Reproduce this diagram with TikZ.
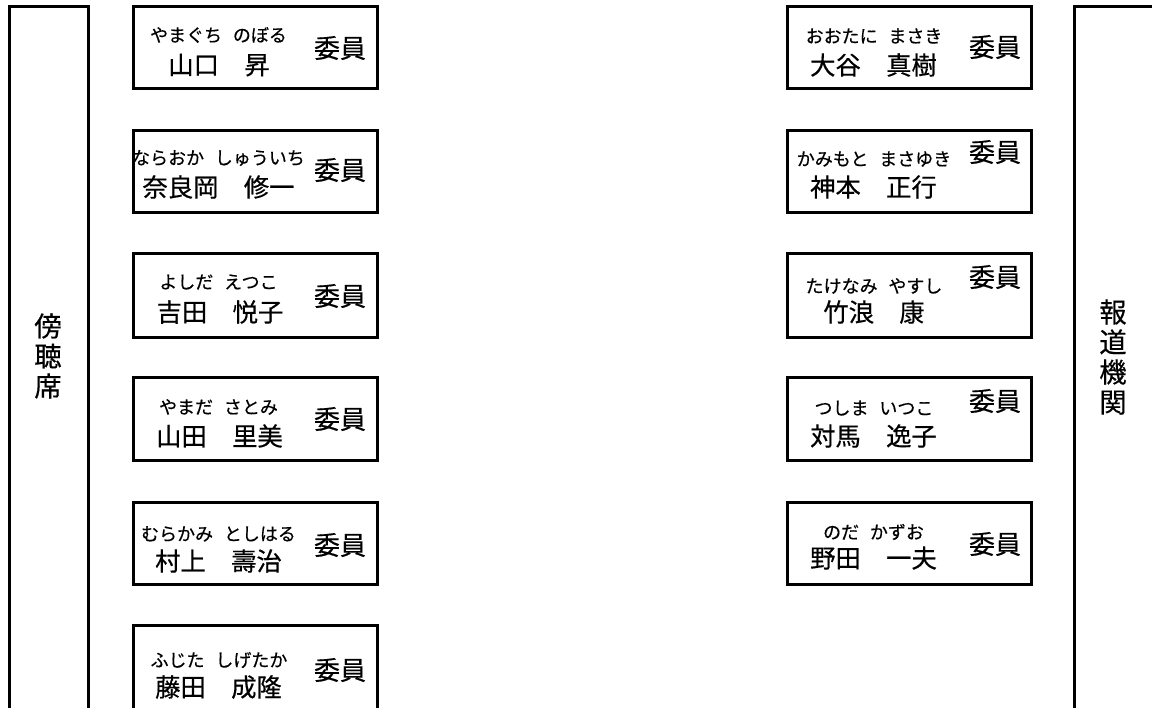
\documentclass[tikz,border=0pt]{standalone}
\usepackage{fontspec}
\setmainfont{Noto Sans CJK JP}[FakeBold=0.5]
\usepackage{tikz}

\newcommand{\kgap}{\hspace{0.6em}}
\tikzset{
  kana/.style={inner sep=0pt,font=\fontsize{13.5}{16}\selectfont},
  fullname/.style={inner sep=0pt,font=\fontsize{19}{22}\selectfont},
  role/.style={inner sep=0pt,font=\fontsize{19.5}{22}\selectfont},
  side/.style={inner sep=0pt,align=center,font=\fontsize{20.5}{22.5}\selectfont}
}

\begin{document}
\begin{tikzpicture}[x=0.75pt,y=-0.75pt,line width=2.25pt]
\useasboundingbox (0,0) rectangle (1152,707);
% seats of the audience and the press
\draw[] (9,720) -- (9,6) -- (88.5,6) -- (88.5,720);
\draw[] (1074,720) -- (1074,6) -- (1160,6);
\node[side] (audience) at (48,356) {傍\\聴\\席};
\node[side] (press) at (1113,357) {報\\道\\機\\関};
% left row
\draw[] (133,6) rectangle (377,88);
\draw[] (133,130) rectangle (377,212);
\draw[] (133,253) rectangle (377,337);
\draw[] (133,377) rectangle (377,460);
\draw[] (133,502) rectangle (377,584);
\draw[] (133,625) rectangle (377,740);
\node[kana] (l1kana) at (218.5,35) {やまぐち\kgap のぼる};
\node[fullname] (l1name) at (219,65) {山口　昇};
\node[role] (l1role) at (340,48) {委員};
\node[kana] (l2kana) at (218.5,158) {ならおか\kgap しゅういち};
\node[fullname] (l2name) at (218.5,187) {奈良岡　修一};
\node[role] (l2role) at (340,170) {委員};
\node[kana] (l3kana) at (218.5,282) {よしだ\kgap えつこ};
\node[fullname] (l3name) at (220,312) {吉田　悦子};
\node[role] (l3role) at (340,296) {委員};
\node[kana] (l4kana) at (218.5,407) {やまだ\kgap さとみ};
\node[fullname] (l4name) at (219.5,436) {山田　里美};
\node[role] (l4role) at (340,419) {委員};
\node[kana] (l5kana) at (218.5,534) {むらかみ\kgap としはる};
\node[fullname] (l5name) at (218.5,561) {村上　壽治};
\node[role] (l5role) at (340,545) {委員};
\node[kana] (l6kana) at (219,660) {ふじた\kgap しげたか};
\node[fullname] (l6name) at (218.5,687) {藤田　成隆};
\node[role] (l6role) at (340,670) {委員};
% right row
\draw[] (787,6) rectangle (1031,88);
\draw[] (787,130) rectangle (1031,212);
\draw[] (787,253) rectangle (1031,337);
\draw[] (787,377) rectangle (1031,460);
\draw[] (787,502) rectangle (1031,584);
\node[kana] (r1kana) at (874,36) {おおたに\kgap まさき};
\node[fullname] (r1name) at (873.5,65) {大谷　真樹};
\node[role] (r1role) at (995,47) {委員};
\node[kana] (r2kana) at (874,159) {かみもと\kgap まさゆき};
\node[fullname] (r2name) at (873.5,187) {神本　正行};
\node[role] (r2role) at (995,152) {委員};
\node[kana] (r3kana) at (874,286) {たけなみ\kgap やすし};
\node[fullname] (r3name) at (874,312) {竹浪　康};
\node[role] (r3role) at (995,277) {委員};
\node[kana] (r4kana) at (874,408) {つしま\kgap いつこ};
\node[fullname] (r4name) at (873.5,436) {対馬　逸子};
\node[role] (r4role) at (995,401) {委員};
\node[kana] (r5kana) at (873.5,532) {のだ\kgap かずお};
\node[fullname] (r5name) at (873.5,558) {野田　一夫};
\node[role] (r5role) at (995,544) {委員};
\end{tikzpicture}
\end{document}
